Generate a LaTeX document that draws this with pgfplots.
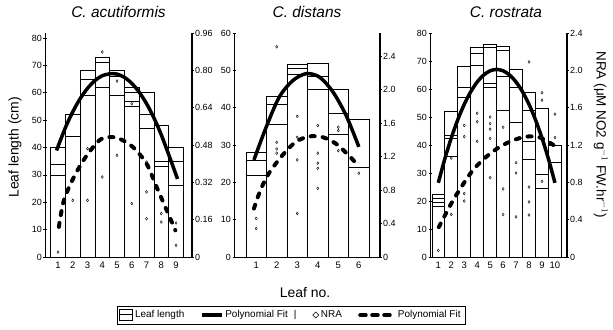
\documentclass[border=0pt]{standalone}
\usepackage{fontspec}
\setmainfont{Liberation Sans}
\usepackage{pgfplots}
\pgfplotsset{compat=1.18}
\usepackage{pgfplotstable}

% ---------- data ----------
\pgfplotstableread{
x a b c d
1 40 34 30 nan
2 52 44 nan nan
3 68 65 59 nan
4 73 71 62 nan
5 68 66 59 nan
6 62 60 57 55
7 60 52 47 nan
8 48 35 33 nan
9 40 35 26 nan
}\barsA
\pgfplotstableread{
x y
1 0.021
2 0.243
3 0.464
3 0.243
4 0.879
4 0.507
4 0.343
5 0.754
5 0.436
6 0.657
6 0.229
7 0.407
7 0.279
7 0.164
8 0.186
8 0.150
9 0.146
9 0.050
}\nraA
\pgfplotstableread{
x a b c
1 28 26 22
2 43 41 35.5
3 51.5 50.5 49
4 52 48.5 45
5 45 38.5 33
6 37 24 nan
}\barsB
\pgfplotstableread{
x y
1 0.34
1 0.46
2 2.51
2 1.37
2 1.29
2 1.24
3 1.68
3 1.43
3 1.16
3 0.52
4 1.57
4 1.24
4 1.12
4 1.06
4 0.82
5 1.55
5 1.51
5 1.27
6 1.00
}\nraB
\pgfplotstableread{
x a b c d
1 22.5 21 19.5 18
2 52 43.5 42.5 36
3 68 60.5 57 nan
4 75 72.8 68.5 nan
5 76 75 62 60.5
6 75.2 74 64.5 52.5
7 67 60.5 48 nan
8 59 52.5 41.5 35
9 53 29.5 24.5 nan
10 40 34 nan nan
}\barsC
\pgfplotstableread{
x y
1 0.07
2 0.455
2 1.06
3 1.41
3 1.29
3 0.68
3 0.60
4 1.54
4 1.45
4 1.24
5 1.50
5 1.43
5 1.37
5 1.27
5 0.85
6 1.39
6 0.73
6 0.455
7 1.01
7 0.90
7 0.43
8 2.09
8 0.75
8 0.59
8 0.45
9 1.76
9 1.68
9 0.81
10 1.53
10 1.28
}\nraC

\pgfplotsset{
  panel/.style={scale only axis, ymin=0, tick align=outside,
    /pgf/number format/assume math mode=true,
    tick label style={font=\fontsize{9}{10}\selectfont, inner sep=1.5bp},
    every tick/.style={black, line width=0.6bp},
    major tick length=3bp, minor tick length=2bp},
  leftax/.style={panel, axis x line=bottom, axis y line=left,
    axis line style={-, line width=0.8bp},
    major x tick style={draw=none},
    xticklabel style={font=\fontsize{9.5}{10}\selectfont, inner sep=3bp},
    title style={font=\itshape\fontsize{15.5}{17}\selectfont, at={(0.5,1)}, anchor=south, yshift=5.5bp}},
  rightax/.style={panel, axis x line=none, axis y line=right,
    axis line style={-, line width=1.3bp}, minor y tick num=3},
  barp/.style={ybar, bar width=1, bar shift=0pt, draw=black, fill=none, line width=0.6bp},
  fitL/.style={black, line width=3.5bp, smooth, no marks},
  fitN/.style={black, line width=4bp, smooth, no marks, line cap=round, dash pattern=on 4bp off 8bp},
  nrap/.style={only marks, mark=diamond, mark size=1.4bp, mark options={black, line width=0.4bp, fill=white}},
}

\begin{document}
\begin{tikzpicture}
\useasboundingbox (0bp,0bp) rectangle (613bp,330bp);

% ===== Panel 1 =====
\begin{axis}[leftax, at={(45bp,73bp)}, anchor=south west, width=147bp, height=224bp,
  xmin=0.12, xmax=10.08, ymax=81.8,
  xtick={1,...,9}, minor xtick={0.5,1.5,...,9.5},
  ytick={0,10,...,80},
  title={C. acutiformis},
  ylabel={Leaf length (cm)},
  ylabel style={font=\fontsize{14}{15}\selectfont, at={(axis description cs:-0.136,0.49)}, anchor=south}]
\addplot[barp] table[x=x,y=a]{\barsA};
\addplot[barp] table[x=x,y=b]{\barsA};
\addplot[barp] table[x=x,y=c]{\barsA};
\addplot[barp] table[x=x,y=d]{\barsA};
\addplot[fitL] coordinates {(0.9,38.9)(1.5,47.2)(2,53)(2.5,57.8)(3,61.6)(3.5,64.4)(4,66.2)(4.65,67)(5,66.8)(5.5,65.6)(6,63.4)(6.5,60.2)(7,56)(7.5,50.8)(8,44.6)(8.5,37.4)(9.1,28.5)};
\end{axis}
\begin{axis}[rightax, at={(45bp,73bp)}, anchor=south west, width=147bp, height=224bp,
  xmin=0.12, xmax=10.08, ymax=0.96,
  ytick={0,0.16,0.32,0.48,0.64,0.80,0.96},
  yticklabels={0,0.16,0.32,0.48,0.64,0.80,0.96}]
\addplot[fitN] coordinates {(1.06,0.129)(1.40,0.243)(2.08,0.343)(2.88,0.429)(3.80,0.500)(4.49,0.514)(5.17,0.507)(6.08,0.471)(7.0,0.400)(7.68,0.300)(8.37,0.200)(8.95,0.114)};
\addplot[nrap] table[x=x,y=y]{\nraA};
\end{axis}

% ===== Panel 2 =====
\begin{axis}[leftax, at={(234bp,73bp)}, anchor=south west, width=146bp, height=224bp,
  xmin=-0.08, xmax=7.03, ymax=60,
  xtick={1,...,6}, minor xtick={0.5,1.5,...,6.5},
  ytick={0,10,...,60},
  title={C. distans},
  xlabel={Leaf no.},
  xlabel style={font=\fontsize{14}{15}\selectfont, at={(axis description cs:0.486,-0.179)}, anchor=base}]
\addplot[barp] table[x=x,y=a]{\barsB};
\addplot[barp] table[x=x,y=b]{\barsB};
\addplot[barp] table[x=x,y=c]{\barsB};
\addplot[fitL] coordinates {(0.89,26.0)(1.46,34.4)(2.11,42.7)(2.77,47.2)(3.43,49.1)(4.08,48.2)(4.74,44.2)(5.39,37.8)(6.0,29.5)};
\end{axis}
\begin{axis}[rightax, at={(234bp,73bp)}, anchor=south west, width=146bp, height=224bp,
  xmin=-0.08, xmax=7.03, ymax=2.675,
  ytick={0,0.4,0.8,1.2,1.6,2.0,2.4},
  yticklabels={0,0.4,0.8,1.2,1.6,2.0,2.4}]
\addplot[fitN] coordinates {(0.89,0.578)(1.21,0.80)(1.62,1.0)(2.28,1.215)(2.93,1.375)(3.59,1.44)(4.25,1.43)(4.90,1.35)(5.56,1.20)(6.0,1.08)};
\addplot[nrap] table[x=x,y=y]{\nraB};
\end{axis}

% ===== Panel 3 =====
\begin{axis}[leftax, at={(430bp,73bp)}, anchor=south west, width=137bp, height=224bp,
  xmin=0.36, xmax=10.93, ymax=80,
  xtick={1,...,10}, minor xtick={0.5,1.5,...,10.5},
  ytick={0,10,...,80},
  title={C. rostrata},
  title style={at={(0.555,1)}}]
\addplot[barp] table[x=x,y=a]{\barsC};
\addplot[barp] table[x=x,y=b]{\barsC};
\addplot[barp] table[x=x,y=c]{\barsC};
\addplot[barp] table[x=x,y=d]{\barsC};
\addplot[fitL] coordinates {(1,26.5)(1.5,35)(2,42.5)(2.5,49)(3,54.5)(3.5,59)(4,62.5)(4.5,65)(5,66.5)(5.5,67)(6,66.5)(6.5,65)(7,62.5)(7.5,59)(8,54.5)(8.5,49)(9,42.5)(9.5,35)(10,26.5)};
\end{axis}
\begin{axis}[rightax, at={(430bp,73bp)}, anchor=south west, width=137bp, height=224bp,
  xmin=0.36, xmax=10.93, ymax=2.4,
  ytick={0,0.4,0.8,1.2,1.6,2.0,2.4},
  yticklabels={0,0.4,0.8,1.2,1.6,2.0,2.4},
  ylabel={NRA (μM NO2 g$^{-1}$ FW.hr$^{-1}$)},
  ylabel style={font=\fontsize{13.5}{14}\selectfont, rotate=180, at={(axis description cs:1.17,0.545)}, anchor=south}]
\addplot[fitN] coordinates {(1.04,0.32)(1.87,0.54)(2.64,0.72)(3.67,0.93)(4.71,1.075)(5.74,1.18)(6.77,1.25)(7.81,1.29)(8.84,1.28)(9.88,1.20)};
\addplot[nrap] table[x=x,y=y]{\nraC};
\end{axis}

% ===== Legend =====
\begin{axis}[at={(291bp,15bp)}, anchor=center, hide axis, scale only axis, width=10bp, height=10bp,
  xmin=0, xmax=1, ymin=0, ymax=1,
  legend columns=4,
  legend style={at={(0.5,0.5)}, anchor=center, draw=black, line width=0.6bp,
    font=\fontsize{10}{11}\selectfont, inner sep=2.5bp,
    /tikz/every even column/.append style={column sep=14bp}}]
\addlegendimage{legend image code/.code={\draw[line width=0.6bp] (0bp,-5bp) rectangle (13bp,5.5bp); \draw[line width=0.6bp] (0bp,0.5bp)--(13bp,0.5bp);}}
\addlegendentry{Leaf length}
\addlegendimage{legend image code/.code={\draw[line width=3bp] (0bp,0bp)--(20bp,0bp);}}
\addlegendentry{Polynomial Fit\hspace{6bp}|}
\addlegendimage{legend image code/.code={\draw[line width=0.5bp] (6bp,-3bp)--(9bp,0bp)--(6bp,3bp)--(3bp,0bp)--cycle;}}
\addlegendentry{NRA}
\addlegendimage{legend image code/.code={\path[draw=none] (0bp,0bp)--(38bp,0bp); \draw[line width=3.5bp, line cap=round, dash pattern=on 6bp off 6bp] (2bp,0bp)--(32bp,0bp);}}
\addlegendentry{Polynomial Fit}
\end{axis}
\end{tikzpicture}
\end{document}
